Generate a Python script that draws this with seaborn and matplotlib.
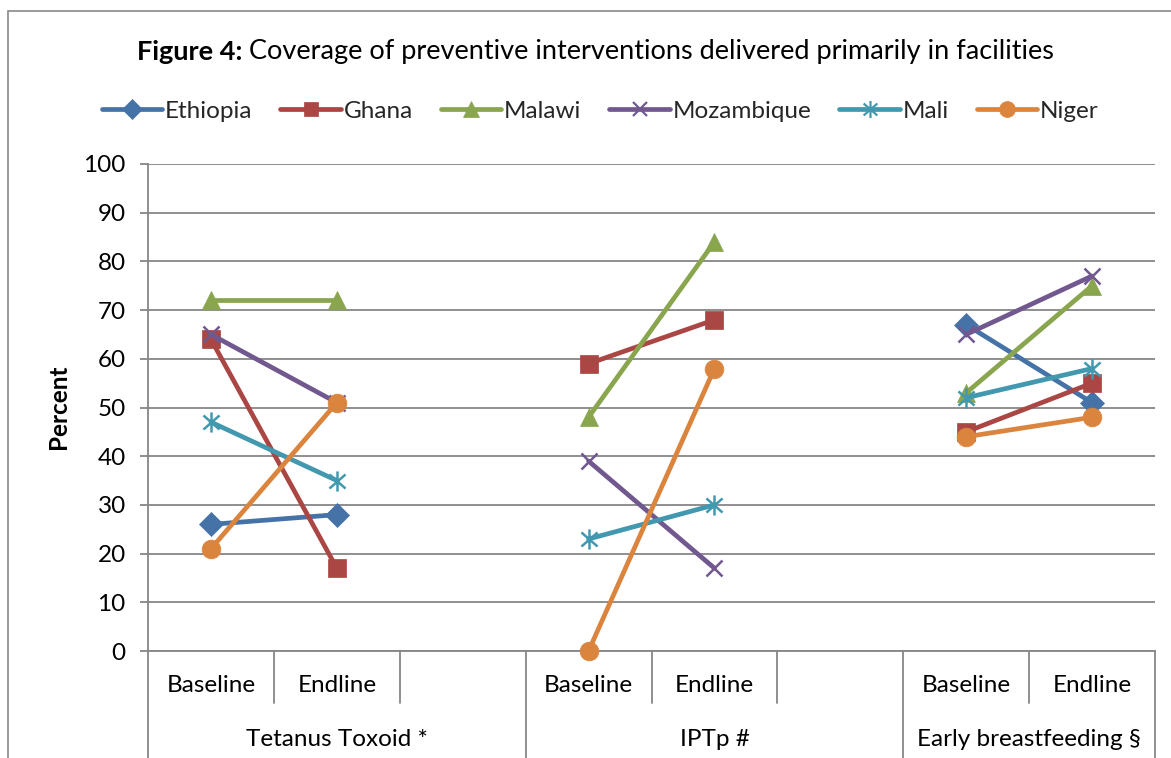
import numpy as np
import pandas as pd
import seaborn as sns
import matplotlib
matplotlib.use("Agg")
import matplotlib.pyplot as plt
from matplotlib.lines import Line2D
from matplotlib.path import Path
from matplotlib.patches import Rectangle

# ---- data -------------------------------------------------------------
countries = ["Ethiopia", "Ghana", "Malawi", "Mozambique", "Mali", "Niger"]
indicators = ["Tetanus Toxoid *", "IPTp #", "Early breastfeeding §"]
rounds = ["Baseline", "Endline"]

# values per country: [TT base, TT end, IPTp base, IPTp end, EBF base, EBF end]
ethiopia = [26, 28, None, None, 67, 51]
ghana = [64, 17, 59, 68, 45, 55]
malawi = [72, 72, 48, 84, 53, 75]
mozambique = [65, 51, 39, 17, 65, 77]
mali = [47, 35, 23, 30, 52, 58]
niger = [21, 51, 0, 58, 44, 48]

y_ticks = list(range(0, 101, 10))

colors = {
    "Ethiopia": "#4572A7",
    "Ghana": "#AA4643",
    "Malawi": "#89A54E",
    "Mozambique": "#71588F",
    "Mali": "#4198AF",
    "Niger": "#DB843D",
}

# asterisk marker: vertical stroke plus two diagonals
star_path = Path(
    [(0, -1), (0, 1), (-0.8, -0.7), (0.8, 0.7), (-0.8, 0.7), (0.8, -0.7)],
    [Path.MOVETO, Path.LINETO, Path.MOVETO, Path.LINETO, Path.MOVETO, Path.LINETO],
)
markers = {
    "Ethiopia": "D",
    "Ghana": "s",
    "Malawi": "^",
    "Mozambique": "x",
    "Mali": star_path,
    "Niger": "o",
}
marker_sizes = {"Ethiopia": 12, "Ghana": 12.5, "Malawi": 13, "Mozambique": 12,
                "Mali": 14.5, "Niger": 13.5}

# ---- long table: each indicator occupies three slots (two rounds + gap) ----
series = dict(zip(countries, [ethiopia, ghana, malawi, mozambique, mali, niger]))
rows = []
for c, vals in series.items():
    for gi, ind in enumerate(indicators):
        for ri, rnd in enumerate(rounds):
            v = vals[gi * 2 + ri]
            if v is None:
                continue
            rows.append({"country": c, "indicator": ind, "round": rnd,
                         "slot": gi * 3 + ri, "value": v})
df = pd.DataFrame(rows)

# ---- figure -------------------------------------------------------------
sns.set_theme(style="white")
plt.rcParams["font.family"] = ["Lato", "DejaVu Sans"]

W, H = 1171, 758
fig = plt.figure(figsize=(W / 100, H / 100), dpi=100)
ax = fig.add_axes([148 / W, 1 - 651 / H, (1155 - 148) / W, (651 - 164) / H])

FS = 17.5
grid_c = "#868686"
for c in countries:
    sub = df[df["country"] == c]
    sns.lineplot(data=sub, x="slot", y="value", units="indicator", estimator=None,
                 color=colors[c], linewidth=3.4, marker=markers[c], ax=ax,
                 legend=False, zorder=3)
    for ln in ax.lines[-sub["indicator"].nunique():]:
        ln.set_markersize(marker_sizes[c])
        ln.set_markeredgecolor(colors[c])
        ln.set_markerfacecolor(colors[c])
        ln.set_markeredgewidth(1.8 if c in ("Mozambique", "Mali") else 0.5)
        ln.set_clip_on(False)
        ln.set_solid_capstyle("round")

ax.set_xlim(-0.5, 7.5)
ax.set_ylim(0, 100)
ax.set_yticks(y_ticks)
ax.set_xticks([])
ax.set_xlabel("")
ax.set_ylabel("")
ax.yaxis.grid(True, color=grid_c, linewidth=1.3)
ax.set_axisbelow(True)
for s in ("top", "right"):
    ax.spines[s].set_visible(False)
for s in ("left", "bottom"):
    ax.spines[s].set_color(grid_c)
    ax.spines[s].set_linewidth(1.3)
ax.tick_params(axis="y", which="major", left=True, length=6, width=1.3,
               color=grid_c, labelsize=FS, pad=10, labelcolor="black")

# ---- two-level category axis -------------------------------------------
trans = ax.get_xaxis_transform()
inner_y = -(703 - 651) / (651 - 164)
outer_y = -(760 - 651) / (651 - 164)
for k in range(9):
    xb = -0.5 + k
    full = k in (0, 3, 6, 8)
    ax.plot([xb, xb], [0, outer_y if full else inner_y], transform=trans,
            color=grid_c, lw=1.3, clip_on=False)
lab_y = -(686 - 651) / (651 - 164)
grp_y = -(739 - 651) / (651 - 164)
for gi, ind in enumerate(indicators):
    for ri, rnd in enumerate(rounds):
        ax.text(gi * 3 + ri, lab_y, rnd, transform=trans, ha="center",
                va="center", fontsize=FS, color="black")
    start = gi * 3 - 0.5
    end = min(gi * 3 + 2.5, 7.5)
    ax.text((start + end) / 2, grp_y, ind, transform=trans, ha="center",
            va="center", fontsize=FS, color="black")

# ---- labels, title, legend ---------------------------------------------
fig.text(58 / W, 1 - 407 / H, "Percent", rotation=90, ha="center", va="center",
         fontsize=FS, fontweight="bold", color="black")

t1 = fig.text(137 / W, 1 - 52 / H, "Figure 4:", ha="left", va="center",
              fontsize=19.5, fontweight="bold", color="black")
ax.annotate(" Coverage of preventive interventions delivered primarily in facilities",
            xy=(1, 0), xycoords=t1, ha="left", va="bottom",
            fontsize=19.5, color="black", annotation_clip=False)

handles = [Line2D([], [], color=colors[c], lw=3.4, marker=markers[c],
                  markersize=marker_sizes[c] * 0.85, markerfacecolor=colors[c],
                  markeredgecolor=colors[c],
                  markeredgewidth=1.6 if c in ("Mozambique", "Mali") else 0.5,
                  solid_capstyle="round")
           for c in countries]
fig.legend(handles, countries, loc="center", bbox_to_anchor=(600 / W, 1 - 111 / H),
           ncol=6, frameon=False, fontsize=FS, handlelength=2.5,
           handletextpad=0.1, columnspacing=1.15)

# outer chart-area border
fig.patches.append(Rectangle((8 / W, -0.02), 1.05, 1 - 11 / H + 0.02,
                             transform=fig.transFigure, fill=False,
                             edgecolor="#888888", lw=1.2, figure=fig))

fig.savefig("out.png", dpi=100, facecolor="white")
